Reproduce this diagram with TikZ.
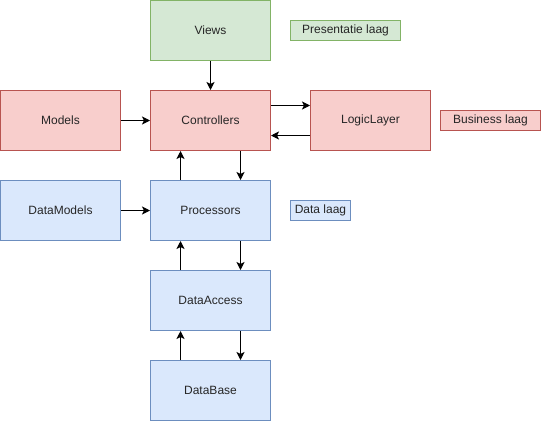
\documentclass[tikz,border=0pt]{standalone}
\usepackage{fontspec}
\setmainfont{Liberation Sans}
\usetikzlibrary{arrows.meta}
\definecolor{gfill}{HTML}{D5E8D4}\definecolor{gline}{HTML}{82B366}
\definecolor{rfill}{HTML}{F8CECC}\definecolor{rline}{HTML}{B85450}
\definecolor{bfill}{HTML}{DAE8FC}\definecolor{bline}{HTML}{6C8EBF}
\tikzset{
  box/.style={rectangle, line width=0.75pt, minimum width=90pt, minimum height=45pt, inner sep=0pt, font=\fontsize{9}{10}\selectfont, text=black!85},
  tag/.style={rectangle, line width=0.75pt, minimum height=15pt, inner sep=0pt, font=\fontsize{9}{10}\selectfont, text=black!85},
  green/.style={fill=gfill, draw=gline},
  red/.style={fill=rfill, draw=rline},
  blue/.style={fill=bfill, draw=bline},
  arr/.style={line width=0.75pt, -{Stealth[length=6pt,width=6pt,inset=1.5pt]}}
}
\begin{document}
\begin{tikzpicture}[x=0.75pt,y=-0.75pt]
\useasboundingbox (-0.5,-0.5) rectangle (540.5,420.5);
\node[box,green] (views) at (210,30) {Views};
\node[tag,green,minimum width=82.5pt] (pres) at (345,30) {Presentatie laag};
\node[box,red] (models) at (60,120) {Models};
\node[box,red] (ctrl) at (210,120) {Controllers};
\node[box,red] (logic) at (370,120) {LogicLayer};
\node[tag,red,minimum width=75pt] (bus) at (490,120) {Business laag};
\node[box,blue] (dmodels) at (60,210) {DataModels};
\node[box,blue] (proc) at (210,210) {Processors};
\node[tag,blue,minimum width=45pt] (dlaag) at (320,210) {Data laag};
\node[box,blue] (dacc) at (210,300) {DataAccess};
\node[box,blue] (dbase) at (210,390) {DataBase};
\draw[arr] (views.south) -- (ctrl.north);
\draw[arr] (models.east) -- (ctrl.west);
\draw[arr] (dmodels.east) -- (proc.west);
\draw[arr] ([yshift=11.25pt]ctrl.east) -- ([yshift=11.25pt]logic.west);
\draw[arr] ([yshift=-11.25pt]logic.west) -- ([yshift=-11.25pt]ctrl.east);
\draw[arr] ([xshift=-22.5pt]proc.north) -- ([xshift=-22.5pt]ctrl.south);
\draw[arr] ([xshift=22.5pt]ctrl.south) -- ([xshift=22.5pt]proc.north);
\draw[arr] ([xshift=-22.5pt]dacc.north) -- ([xshift=-22.5pt]proc.south);
\draw[arr] ([xshift=22.5pt]proc.south) -- ([xshift=22.5pt]dacc.north);
\draw[arr] ([xshift=-22.5pt]dbase.north) -- ([xshift=-22.5pt]dacc.south);
\draw[arr] ([xshift=22.5pt]dacc.south) -- ([xshift=22.5pt]dbase.north);
\end{tikzpicture}
\end{document}
